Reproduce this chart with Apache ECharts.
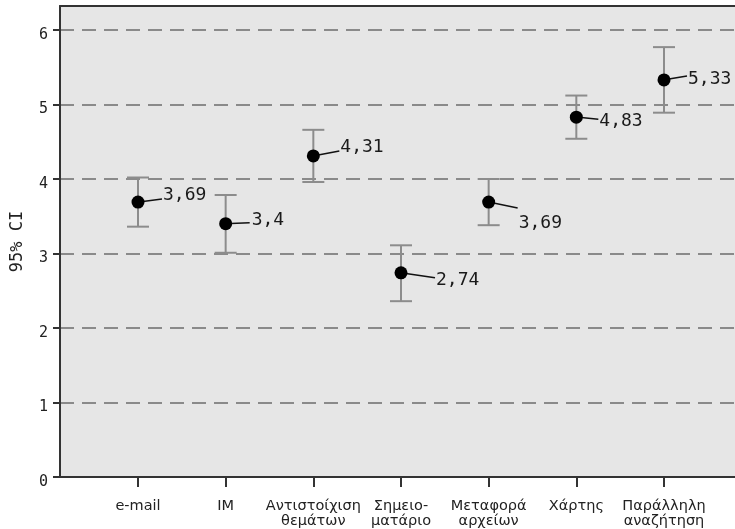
<!DOCTYPE html>
<html><head><meta charset="utf-8">
<script src="https://cdn.jsdelivr.net/npm/echarts@6/dist/echarts.min.js"></script>
<style>html,body{margin:0;padding:0;background:#fff}#c{width:735px;height:529px}</style>
</head><body><div id="c"></div>
<script>
const categories = ['e-mail', 'IM', 'Αντιστοίχιση\nθεμάτων', 'Σημειο-\nματάριο', 'Μεταφορά\nαρχείων', 'Χάρτης', 'Παράλληλη\nαναζήτηση'];
const means  = [3.69, 3.4, 4.31, 2.74, 3.69, 4.83, 5.33];
const ciLow  = [3.36, 3.01, 3.96, 2.36, 3.38, 4.54, 4.89];
const ciHigh = [4.02, 3.785, 4.66, 3.11, 4.00, 5.12, 5.77];
const yTicks = [0, 1, 2, 3, 4, 5, 6];
const xPositions = categories.map((c, i) => i + 1);
// label placement (presentation only): [textDx, textDy, lineEndDx, lineEndDy]
const labelOffsets = [[25, -7, 24, -3], [26, -3, 24, -1], [27, -9, 26, -5], [35, 7, 34, 5], [30, 21, 29, 6], [23, 4, 22, 2], [24, -1, 23, -4]];

const fmt = v => String(v).replace('.', ',');

const chart = echarts.init(document.getElementById('c'), null, {renderer: 'canvas'});
chart.setOption({
  animation: false,
  grid: {left: 60, top: 6, right: 0, bottom: 52, show: true, backgroundColor: '#e6e6e6', borderWidth: 0},
  xAxis: [{
    type: 'value', min: 0.1103, max: 7.81,
    axisLine: {show: true, onZero: false, lineStyle: {color: '#333', width: 2}},
    axisTick: {show: true, length: 10, customValues: xPositions, lineStyle: {color: '#333', width: 2}},
    splitLine: {show: false},
    axisLabel: {
      customValues: xPositions, margin: 22, color: '#222',
      fontFamily: 'DejaVu Sans', fontSize: 14.5, lineHeight: 15,
      formatter: v => categories[Math.round(v) - 1] || ''
    }
  }, {
    type: 'value', position: 'top', min: 0.1103, max: 7.81,
    axisLine: {show: true, onZero: false, lineStyle: {color: '#333', width: 2}},
    axisTick: {show: false}, axisLabel: {show: false}, splitLine: {show: false}
  }],
  yAxis: {
    type: 'value', min: 0, max: 6.322,
    name: '95% CI', nameLocation: 'middle', nameGap: 34,
    nameTextStyle: {fontFamily: 'DejaVu Sans Mono', fontSize: 17, color: '#222'},
    axisLine: {show: true, lineStyle: {color: '#333', width: 2}},
    axisTick: {show: true, length: 7, customValues: yTicks, lineStyle: {color: '#333', width: 2}},
    axisLabel: {customValues: yTicks, margin: 12, color: '#222', fontFamily: 'DejaVu Sans Mono', fontSize: 15, verticalAlign: 'top', lineHeight: 10},
    splitLine: {show: true, lineStyle: {color: '#8a8a8a', width: 2, type: [14, 8]}}
  },
  series: [
    {
      type: 'custom', z: 2,
      data: xPositions.map((x, i) => [x, ciLow[i], ciHigh[i]]),
      renderItem: (params, api) => {
        const lo = api.coord([api.value(0), api.value(1)]);
        const hi = api.coord([api.value(0), api.value(2)]);
        const w = 11;
        const st = {stroke: '#8c8c8c', lineWidth: 2};
        return {type: 'group', children: [
          {type: 'line', shape: {x1: lo[0], y1: lo[1], x2: hi[0], y2: hi[1]}, style: st},
          {type: 'line', shape: {x1: lo[0] - w, y1: lo[1], x2: lo[0] + w, y2: lo[1]}, style: st},
          {type: 'line', shape: {x1: hi[0] - w, y1: hi[1], x2: hi[0] + w, y2: hi[1]}, style: st}
        ]};
      }
    },
    {
      type: 'custom', z: 3,
      data: xPositions.map((x, i) => [x, means[i]]),
      renderItem: (params, api) => {
        const p = api.coord([api.value(0), api.value(1)]);
        const o = labelOffsets[params.dataIndex];
        const ex = p[0] + o[2], ey = p[1] + o[3];
        const ang = Math.atan2(o[3], o[2]);
        return {type: 'group', children: [
          {type: 'line', shape: {x1: p[0] + 5 * Math.cos(ang), y1: p[1] + 5 * Math.sin(ang), x2: ex, y2: ey}, style: {stroke: '#111', lineWidth: 1.5}},
          {type: 'text', x: p[0] + o[0], y: p[1] + o[1], style: {text: fmt(means[params.dataIndex]), fill: '#1a1a1a', font: '18px "DejaVu Sans Mono"', align: 'left', verticalAlign: 'middle'}}
        ]};
      }
    },
    {
      type: 'scatter', z: 4, symbol: 'circle', symbolSize: 13,
      itemStyle: {color: '#000', opacity: 1},
      data: xPositions.map((x, i) => [x, means[i]])
    }
  ]
});
</script></body></html>
